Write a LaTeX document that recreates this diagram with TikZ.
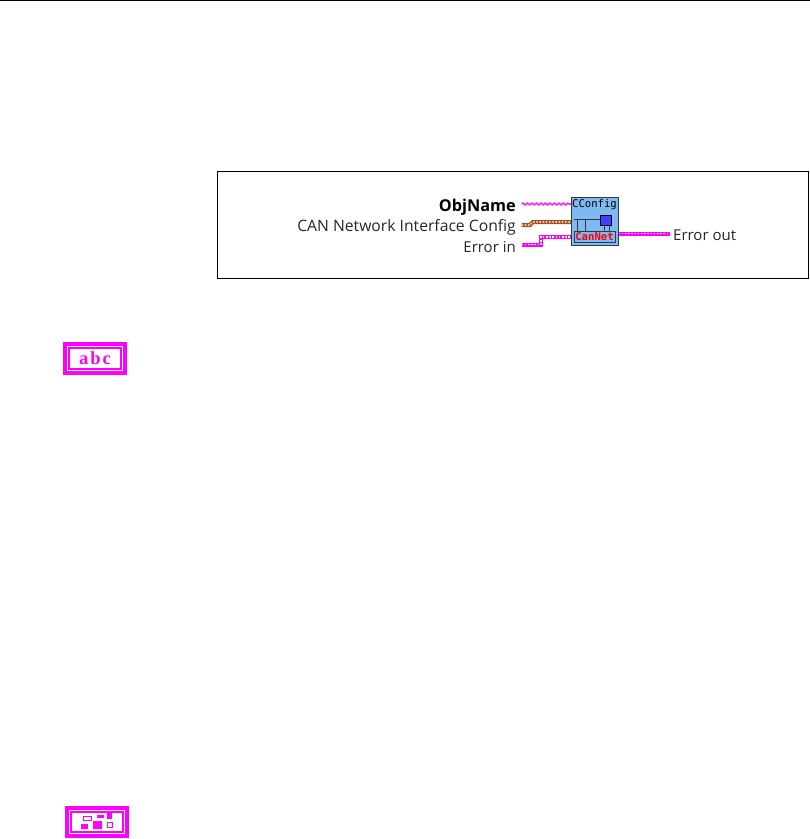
\documentclass[tikz,border=0pt]{standalone}
\usepackage{fontspec}
\setmainfont{Open Sans}
\newfontfamily\iconfont{DejaVu Sans Mono}
\newfontfamily\abcfont{Liberation Serif}
\definecolor{wirepink}{RGB}{255,0,255}
\definecolor{wirebrown}{RGB}{165,80,30}
\definecolor{iconblue}{RGB}{128,184,240}
\definecolor{icondark}{RGB}{40,60,75}
\tikzset{
  x=1pt,y=1pt,
  lbl/.style={anchor=east,inner sep=0pt,font=\fontsize{15.7}{17}\selectfont,text=black!85},
  errlbl/.style={lbl,font=\fontsize{15}{17}\selectfont},
  wirebase/.style={line width=4pt,line join=miter},
  wiredots/.style={line width=1.6pt,white,dash pattern=on 1.6pt off 1.6pt},
  thinwire/.style={line width=1.7pt,wirepink!85,decorate,decoration={snake,amplitude=0.8pt,segment length=4.5pt}},
  iconframe/.style={draw=wirepink,line width=4pt,fill=white},
  iconinner/.style={draw=wirepink,line width=1.5pt},
  iconpart/.style={draw=wirepink,fill=wirepink,line width=0pt},
}
\usetikzlibrary{decorations.pathmorphing}
\begin{document}
\begin{tikzpicture}
\useasboundingbox (0,0) rectangle (810,-839);
\draw[line width=1pt,black] (0,-0.6) -- (810,-0.6);
\node[draw=black,line width=1pt,minimum width=591pt,minimum height=107pt,inner sep=0pt,anchor=north west] (frame) at (216.8,-170.8) {};
% labels
\node[lbl,font=\fontsize{16.3}{17}\selectfont\bfseries,text=black] (objname) at (516,-207.3) {ObjName};
\node[lbl] (canconf) at (516,-227) {CAN Network Interface Config};
\node[errlbl] (errin) at (516,-247) {Error in};
\node[errlbl,anchor=west] (errout) at (673,-235.5) {Error out};
% VI icon
\node[draw=icondark,line width=1.6pt,fill=iconblue,minimum width=47pt,minimum height=48pt,inner sep=0pt,anchor=north west] (vi) at (570.5,-196.5) {};
\node[inner sep=0pt,font=\iconfont\fontsize{10.6}{11}\selectfont,text=black] (vititle) at (594.5,-205) {CConfig};
\node[draw=icondark,line width=1pt,fill=iconblue,minimum width=41pt,minimum height=11pt,inner sep=0pt,anchor=north west] (vipanel) at (573.5,-231) {};
\node[inner sep=0pt,font=\iconfont\bfseries\fontsize{10.6}{11}\selectfont,text=red] (vicannet) at (594.5,-236.5) {CanNet};
\node[draw=black,line width=1pt,fill=blue!75!white,minimum width=11pt,minimum height=10pt,inner sep=0pt,anchor=north west] (vimon) at (600,-214.5) {};
\coordinate (barL) at (574,-219.5);
\coordinate (barR) at (600.5,-219.5);
\draw[icondark,line width=1pt] (barL) -- (barR);
\draw[icondark,line width=1pt] (577.5,-219.5) -- (577.5,-231) (585,-219.5) -- (585,-231);
\draw[icondark,line width=1pt] (604,-224.5) -- (604,-231) (609,-224.5) -- (609,-231);
% wire ends
\coordinate (objend) at (521.5,-204);
\coordinate (objin) at (571,-204);
\coordinate (confend) at (521.5,-225);
\coordinate (confin) at (571,-222);
\coordinate (errend) at (521.5,-244.5);
\coordinate (errinT) at (571,-237);
\coordinate (erroutS) at (618.5,-233.5);
\coordinate (erroutE) at (669.5,-233.5);
% wires
\draw[thinwire] (objend) -- (objin);
\draw[wirebase,wirebrown] (confend) -- (530,-225) -- (533,-222) -- (confin);
\draw[wiredots,white!70!wirebrown] (confend) -- (530,-225) -- (533,-222) -- (confin);
\draw[wirebase,wirepink] (errend) -- (541,-244.5) -- (541,-237) -- (errinT);
\draw[wiredots] (errend) -- (541,-244.5) -- (541,-237) -- (errinT);
\draw[wirebase,wirepink] (erroutS) -- (erroutE);
\draw[wiredots] (erroutS) -- (erroutE);
% abc icon
\node[iconframe,minimum width=60pt,minimum height=29pt,inner sep=0pt,anchor=north west] (abcbox) at (63,-342) {};
\node[iconinner,minimum width=52pt,minimum height=21pt,inner sep=0pt] (abcin) at (abcbox.center) {};
\node[inner sep=0pt,font=\abcfont\bfseries\fontsize{18.5}{20}\selectfont,text=wirepink] (abctxt) at ([yshift=0.5pt]abcbox.center) {a\kern2pt b\kern2pt c};
% cluster icon
\node[iconframe,minimum width=60pt,minimum height=28pt,inner sep=0pt,anchor=north west] (clbox) at (65,-806) {};
\node[iconinner,minimum width=52pt,minimum height=20pt,inner sep=0pt] (clin) at (clbox.center) {};
\node[draw=wirepink,line width=1.2pt,minimum width=8pt,minimum height=4pt,inner sep=0pt] (cla) at (87.5,-818.5) {};
\node[iconpart,minimum width=6pt,minimum height=1.6pt,inner sep=0pt] (clb) at (100,-816.5) {};
\node[iconpart,minimum width=4pt,minimum height=5pt,inner sep=0pt] (clc) at (109,-815.5) {};
\node[iconpart,minimum width=6pt,minimum height=4pt,inner sep=0pt] (cld) at (84,-826) {};
\node[iconpart,minimum width=8pt,minimum height=7pt,inner sep=0pt] (cle) at (97,-825) {};
\node[draw=wirepink,line width=1.2pt,minimum width=5pt,minimum height=5pt,inner sep=0pt] (clf) at (110,-825) {};
\end{tikzpicture}
\end{document}
